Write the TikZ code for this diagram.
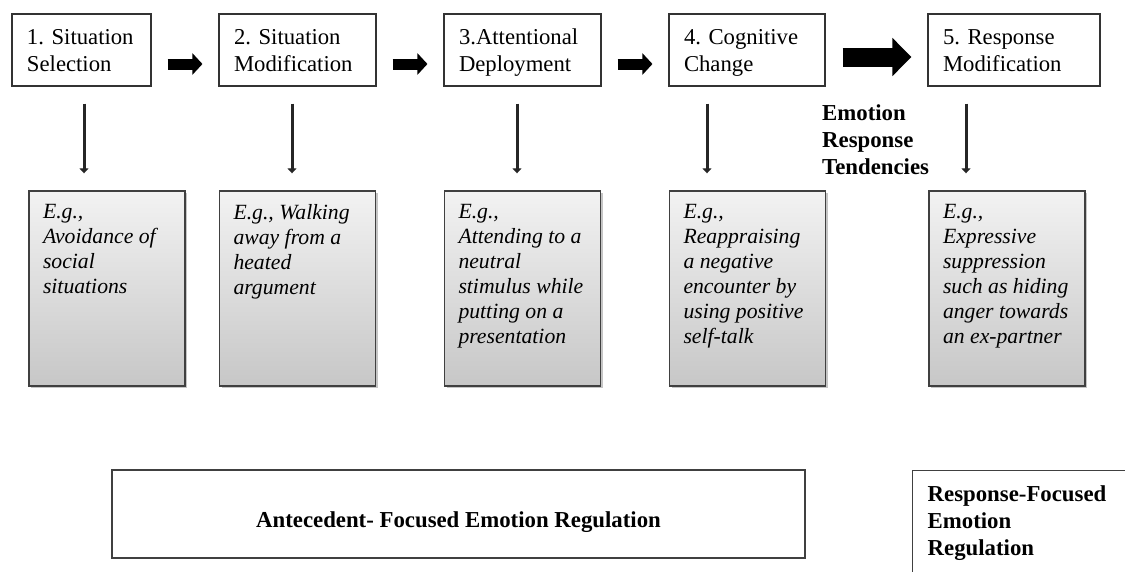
\documentclass[tikz,border=0pt]{standalone}
\usepackage{fontspec}
\setmainfont{Liberation Serif}
\usetikzlibrary{arrows.meta,shadows}
\frenchspacing
\hyphenpenalty=10000

\begin{document}
\begin{tikzpicture}[x=1pt,y=-1pt]
	\tikzstyle{stagebox}=[draw=black!80,line width=1.1pt,fill=white,minimum height=72pt,inner xsep=15pt,align=left,font=\fontsize{22.7}{27}\selectfont,execute at begin node={\rule{0pt}{20.7pt}},execute at end node={\vphantom{g}}]
	\tikzstyle{exbox}=[draw=black!75,line width=1.4pt,top color=black!5,bottom color=black!22,inner xsep=14pt,inner ysep=13pt,drop shadow={shadow xshift=2pt,shadow yshift=-2pt,opacity=0.45},font=\fontsize{21.7}{25}\selectfont\itshape]
	\tikzstyle{boldtext}=[font=\fontsize{22.8}{27}\selectfont\bfseries]
	\tikzstyle{dropline}=[draw=black!85,line width=3pt,-{Triangle[length=5pt,width=9pt]},shorten <=17pt,shorten >=17pt]
	\tikzstyle{flowarrow}=[line width=11pt,-{Triangle[length=10pt,width=21pt]},shorten <=16pt,shorten >=16pt]
	\clip (0,0) rectangle (1125,571);
	\fill[white] (0,0) rectangle (1125,571);
	% the five stages with their examples
	\foreach \i/\cx/\w/\ax/\ex/\stxt/\etxt in {
		1/81.5/139/84/107/{1. Situation\\Selection}/{E.g.,\\Avoidance of\\social\\situations},
		2/297.5/157/292/297.5/{2. Situation\\Modification}/{E.g., Walking\\away from a\\heated\\argument},
		3/522.5/157/517/522.5/{3.Attentional\\Deployment}/{E.g.,\\Attending to a\\neutral\\stimulus while\\putting on a\\presentation},
		4/747/156/707/747.5/{4. Cognitive\\Change}/{E.g.,\\Reappraising\\a negative\\encounter by\\using positive\\self-talk},
		5/1014/172/966/1007/{5. Response\\Modification}/{E.g.,\\Expressive\\suppression\\such as hiding\\anger towards\\an ex-partner}}
	{
		\pgfmathsetmacro\tw{\w-30}
		\node[stagebox,text width=\tw pt] (s\i) at (\cx,50) {\stxt};
		\node[exbox] (e\i) at (\ex,288.5) {\parbox[t][169pt][t]{128pt}{\raggedright\etxt}};
		\coordinate (a\i) at (\ax,0);
		\draw[dropline] (s\i.south -| a\i) -- (e\i.north -| a\i);
	}
	\foreach \i/\j in {1/2,2/3,3/4}
		\draw[flowarrow] ([yshift=-14pt]s\i.east) -- ([yshift=-14pt]s\j.west);
	\draw[flowarrow,line width=19pt,-{Triangle[length=19pt,width=37pt]},shorten <=17pt] ([yshift=-7pt]s4.east) -- ([yshift=-7pt]s5.west);
	\node[boldtext,anchor=west,align=left,inner sep=0pt] (tend) at (822,140) {Emotion\\Response\\Tendencies};
	% the two kinds of regulation
	\node[boldtext,draw=black!75,line width=1.4pt,minimum width=693pt,minimum height=88pt] (ante) at (458.5,514) {\raisebox{-13.5pt}[0pt][0pt]{Antecedent- Focused Emotion Regulation}};
	\node[boldtext,draw=black!75,line width=1.4pt,anchor=north west,inner xsep=15pt,inner ysep=15pt] (resp) at (912,470) {\parbox[t][100pt][t]{200pt}{Response-Focused\\Emotion\\Regulation}};
\end{tikzpicture}
\end{document}
